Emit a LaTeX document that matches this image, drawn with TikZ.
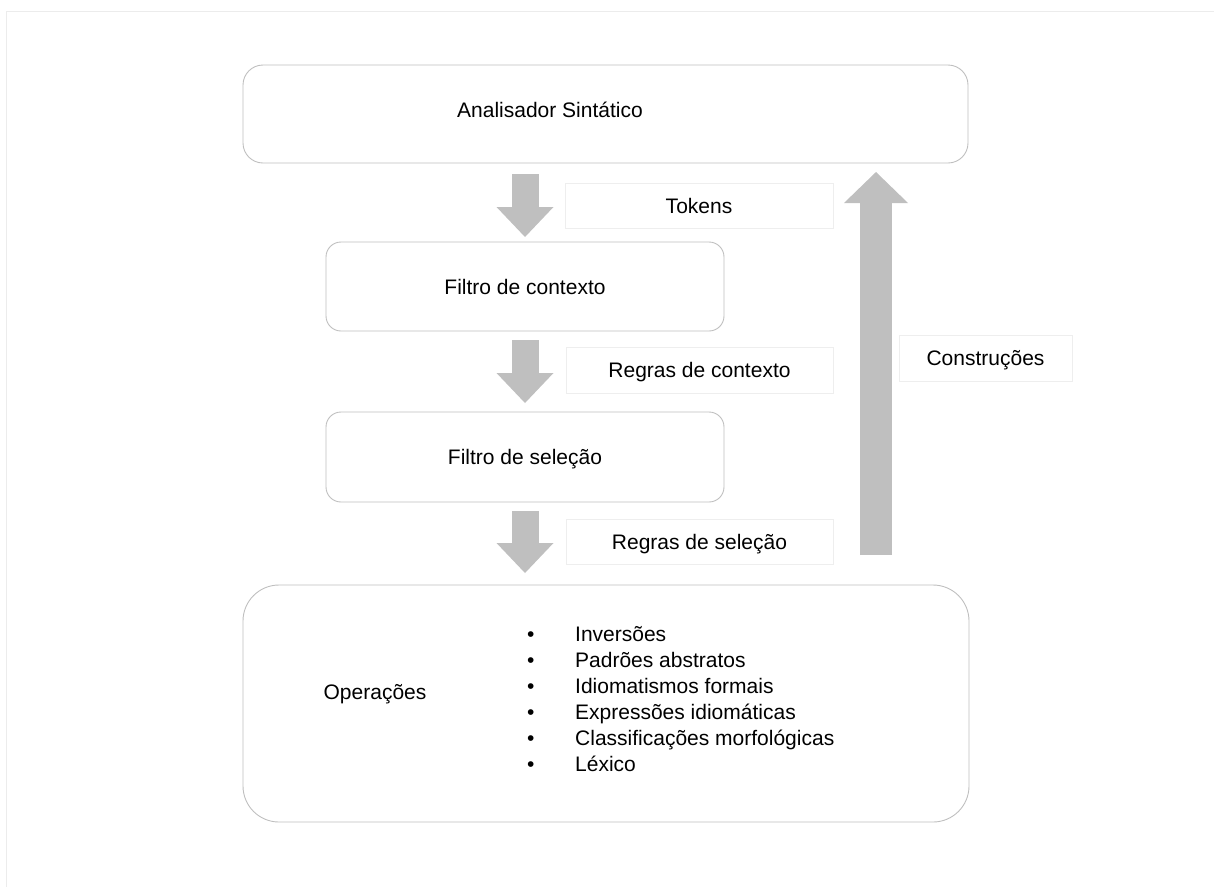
\documentclass[tikz,border=0pt]{standalone}
\usepackage{fontspec}
\setmainfont{Liberation Sans}
\usetikzlibrary{arrows.meta, calc}

\definecolor{boxline}{HTML}{BFBFBF}
\definecolor{lblline}{HTML}{EEEEEE}
\definecolor{frameline}{HTML}{ECECEC}
\definecolor{flow}{HTML}{BFBFBF}

\newcommand{\opbullet}{\makebox[48pt][l]{\textbullet}}

\begin{document}
\begin{tikzpicture}
   [x=1pt, y=-1pt, font=\fontsize{21}{26}\selectfont,
    stage/.style={draw=boxline, line width=0.9pt, rounded corners=#1,
                  inner sep=0pt, outer sep=0pt, text height=15pt, text depth=0pt},
    stage/.default=15pt,
    lbl/.style={draw=lblline, line width=1pt, minimum height=45pt,
                inner sep=0pt, outer sep=0pt, text height=15pt, text depth=0pt},
    down/.style={flow, line width=27pt,
                 -{Triangle[width=57pt, length=30pt, line width=0pt]}},
    up/.style={flow, line width=32pt,
               -{Triangle[width=64pt, length=31pt, line width=0pt]}},
    item/.style={anchor=base west, inner sep=0pt}]
   \useasboundingbox (0,0) rectangle (1214,887);
   \draw[frameline] (1214,11) -- (6,11) -- (6,887);

   % stages
   \node[stage=20pt, minimum width=725pt, minimum height=98pt] (ana) at (605.5,114) {};
   \node[anchor=base, inner sep=0pt] (ana_t) at (550,117) {Analisador Sintático};
   \node[stage, minimum width=398pt, minimum height=89pt] (ctx) at (525,286.5) {Filtro de contexto};
   \node[stage, minimum width=398pt, minimum height=90pt] (sel) at (525,457) {Filtro de seleção};
   \node[stage=36pt, minimum width=726pt, minimum height=237pt] (ops) at (606,703.5) {};
   \node[anchor=base, inner sep=0pt] (ops_t) at (375,699) {Operações};

   % list of operations
   \node[item] (it_1) at (527,641) {\opbullet Inversões};
   \node[item] (it_2) at (527,667) {\opbullet Padrões abstratos};
   \node[item] (it_3) at (527,693) {\opbullet Idiomatismos formais};
   \node[item] (it_4) at (527,719) {\opbullet Expressões idiomáticas};
   \node[item] (it_5) at (527,745) {\opbullet Classificações morfológicas};
   \node[item] (it_6) at (527,771) {\opbullet Léxico};

   % labels of the flows
   \node[lbl, minimum width=268pt] (l_tok) at (699,205.5) {Tokens};
   \node[lbl, minimum width=267pt, minimum height=46pt] (l_ctx) at (699.5,370) {Regras de contexto};
   \node[lbl, minimum width=267pt] (l_sel) at (699.5,541.5) {Regras de seleção};
   \node[lbl, minimum width=173pt, minimum height=46pt] (l_con) at (985.5,358) {Construções};

   % flows
   \draw[down] ($(ctx.north |- ana.south)+(0,11)$) -- ($(ctx.north)+(0,-5)$);
   \draw[down] ($(ctx.south)+(0,9)$) -- ($(sel.north)+(0,-9)$);
   \draw[down] ($(sel.south)+(0,9)$) -- ($(sel.south |- ops.north)+(0,-12)$);
   \draw[up] ($(ops.north east)+(-93,-30)$) -- ($(ana.south east)+(-92,9)$);
\end{tikzpicture}
\end{document}
